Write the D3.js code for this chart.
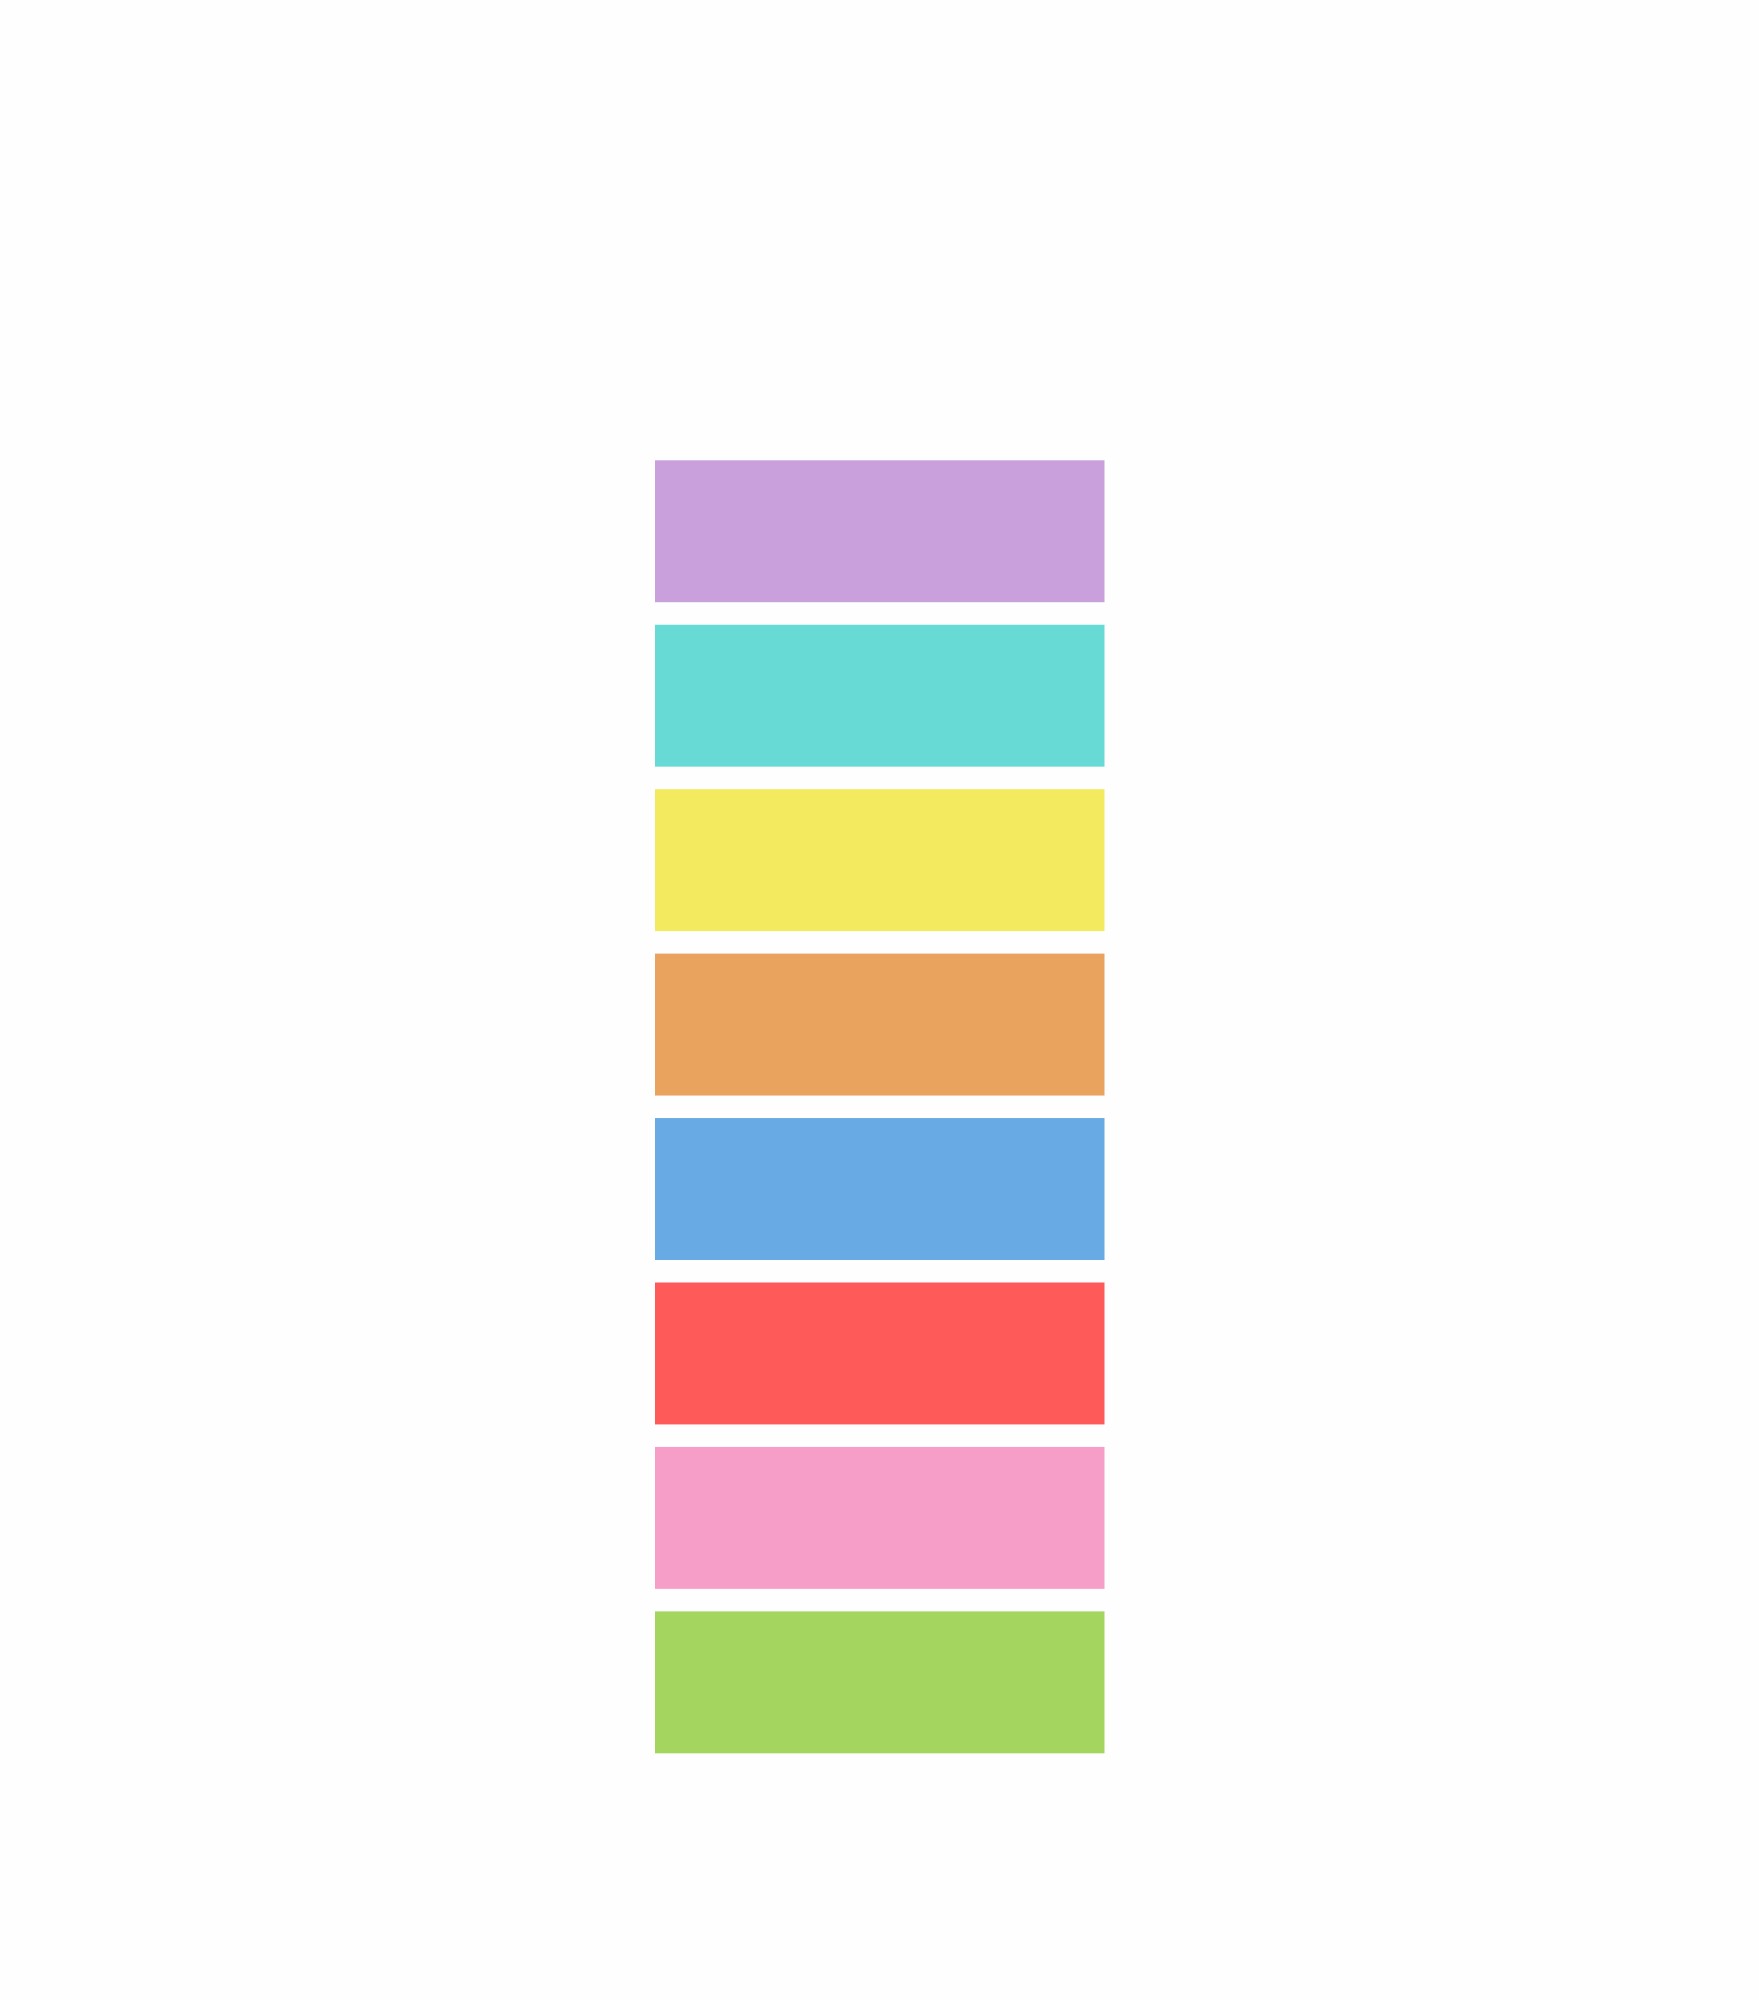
<!DOCTYPE html>
<html>
<head>
<meta charset="utf-8">
<script src="https://cdn.jsdelivr.net/npm/d3@7"></script>
<style>
	body { margin: 0; background: #fefefe; }
</style>
</head>
<body>
<div id="chart"></div>
<script>
var categories = ["A", "B", "C", "D", "E", "F", "G", "H"];
var values = [100, 100, 100, 100, 100, 100, 100, 100];
var colors = ["#c9a0dc", "#68dad6", "#f4ea60", "#e9a35e", "#68aae3", "#ff5a5a", "#f69ec8", "#a3d55f"];

var w = 1759;
var h = 2000;

var svg = d3.select("#chart")
			.append("svg")
			.attr("width", w)
			.attr("height", h);

var x = d3.scaleLinear()
		  .domain([0, d3.max(values)])
		  .range([655, 1104.5]);

var y = d3.scaleBand()
		  .domain(categories)
		  .range([460.3, 1753.3])
		  .paddingInner(0.137)
		  .paddingOuter(0);

var color = d3.scaleOrdinal()
			  .domain(categories)
			  .range(colors);

svg.selectAll("rect")
	.data(categories)
	.enter()
	.append("rect")
	.attr("x", x(0))
	.attr("y", d => y(d))
	.attr("width", (d, i) => x(values[i]) - x(0))
	.attr("height", y.bandwidth())
	.attr("fill", d => color(d));
</script>
</body>
</html>
